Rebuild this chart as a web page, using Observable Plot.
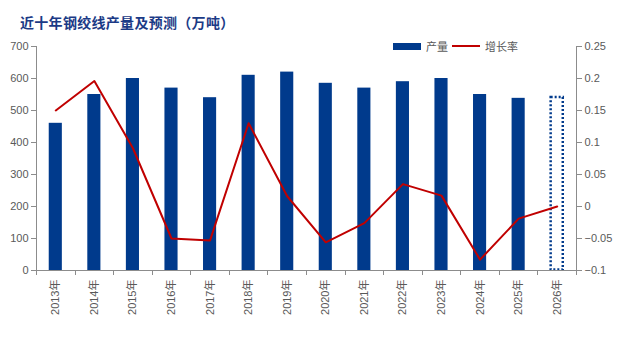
<!DOCTYPE html>
<html><head><meta charset="utf-8">
<script src="https://cdn.jsdelivr.net/npm/d3@7"></script>
<script src="https://cdn.jsdelivr.net/npm/@observablehq/plot@0.6"></script>
<style>
body{margin:0;background:#fff;}
#wrap{position:relative;width:624px;height:360px;font-family:"Liberation Sans","Noto Sans CJK SC",sans-serif;}
#title{height:36px;box-sizing:border-box;padding:13px 0 0 20px;font-family:"Noto Sans CJK SC",sans-serif;font-size:14px;font-weight:bold;color:#1b3a86;line-height:18px;letter-spacing:0.3px;}
#legend{position:absolute;left:393px;top:39px;font-family:"Noto Sans CJK SC",sans-serif;font-size:11px;color:#595959;display:flex;align-items:center;line-height:14px;}
.sw{display:inline-block;}
</style>
</head><body>
<div id="wrap">
<div id="title">近十年钢绞线产量及预测（万吨）</div>
<div id="legend">
<span class="sw" style="width:28px;height:7px;background:#003a8c;margin-right:5px"></span><span>产量</span>
<span class="sw" style="width:28px;height:2px;background:#c00000;margin:0 5px 0 4px"></span><span>增长率</span>
</div>
<div id="chart"></div>
</div>
<script>
const years = ["2013年","2014年","2015年","2016年","2017年","2018年","2019年","2020年","2021年","2022年","2023年","2024年","2025年","2026年"];
const output = [460, 550, 600, 570, 540, 610, 620, 585, 570, 590, 600, 550, 538, 542];
const growth = [0.15, 0.196, 0.091, -0.05, -0.053, 0.13, 0.016, -0.056, -0.026, 0.035, 0.017, -0.083, -0.019, 0.0];
const forecastYear = "2026年";
const leftTicks = [0, 100, 200, 300, 400, 500, 600, 700];
const rightTicks = [-0.1, -0.05, 0, 0.05, 0.1, 0.15, 0.2, 0.25];
const rightTickLabels = ["−0.1", "−0.05", "0", "0.05", "0.1", "0.15", "0.2", "0.25"];

const rows = years.map((y, i) => ({year: y, v: output[i], g: growth[i], forecast: y === forecastYear}));
const toLeft = g => (g - rightTicks[0]) * (leftTicks[leftTicks.length - 1] / (rightTicks[rightTicks.length - 1] - rightTicks[0]));

const axisGray = "#8c8c8c";

function axisLines(index, scales, values, dim) {
  const {marginLeft: l, marginRight: r, marginTop: t, marginBottom: b, width: w, height: h} = dim;
  const x = scales.x;
  const bw = x.bandwidth ? x.bandwidth() : 0;
  const centers = years.map(y => x(y) + bw / 2);
  const y0 = h - b;
  const g = d3.create("svg:g").attr("stroke", axisGray).attr("fill", "none").attr("stroke-width", 1);
  g.append("line").attr("x1", l).attr("x2", w - r).attr("y1", y0 + 0.5).attr("y2", y0 + 0.5);
  g.append("line").attr("x1", l + 0.5).attr("x2", l + 0.5).attr("y1", t).attr("y2", y0 + 0.5);
  g.append("line").attr("x1", w - r + 0.5).attr("x2", w - r + 0.5).attr("y1", t).attr("y2", y0 + 0.5);
  const bounds = [l];
  for (let i = 0; i < centers.length - 1; i++) bounds.push((centers[i] + centers[i + 1]) / 2);
  bounds.push(w - r);
  bounds.forEach(bx => {
    const px = Math.round(bx) + 0.5;
    g.append("line").attr("x1", px).attr("x2", px).attr("y1", y0).attr("y2", y0 + 5);
  });
  return g.node();
}

const plot = Plot.plot({
  width: 624,
  height: 324,
  marginTop: 10,
  marginBottom: 90,
  marginLeft: 36,
  marginRight: 48,
  style: {fontFamily: '"Liberation Sans","Noto Sans CJK SC",sans-serif', fontSize: "11px", color: "#595959", background: "#fff"},
  x: {domain: years, paddingInner: 0.66, paddingOuter: 0.33, round: false, label: null, axis: null},
  y: {domain: [0, 700], label: null, axis: null},
  marks: [
    Plot.barY(rows.filter(d => !d.forecast), {x: "year", y: "v", fill: "#003a8c"}),
    Plot.barY(rows.filter(d => d.forecast), {x: "year", y: "v", fill: "none", stroke: "#003a8c", strokeWidth: 2.5, strokeDasharray: "2,2", inset: 0.5}),
    Plot.lineY(rows, {x: "year", y: d => toLeft(d.g), stroke: "#c00000", strokeWidth: 2}),
    Plot.axisY(leftTicks, {anchor: "left", tickSize: 5, tickPadding: 3, stroke: axisGray, label: null}),
    Plot.axisY(rightTicks.map(toLeft), {anchor: "right", tickSize: 5, tickPadding: 3, stroke: axisGray, label: null,
      tickFormat: d => rightTickLabels[Math.round(d / (leftTicks[1] - leftTicks[0]))]}),
    Plot.axisX({anchor: "bottom", tickRotate: -90, tickSize: 0, tickPadding: 9, label: null}),
    axisLines
  ]
});
document.getElementById("chart").appendChild(plot);
</script>
</body></html>
